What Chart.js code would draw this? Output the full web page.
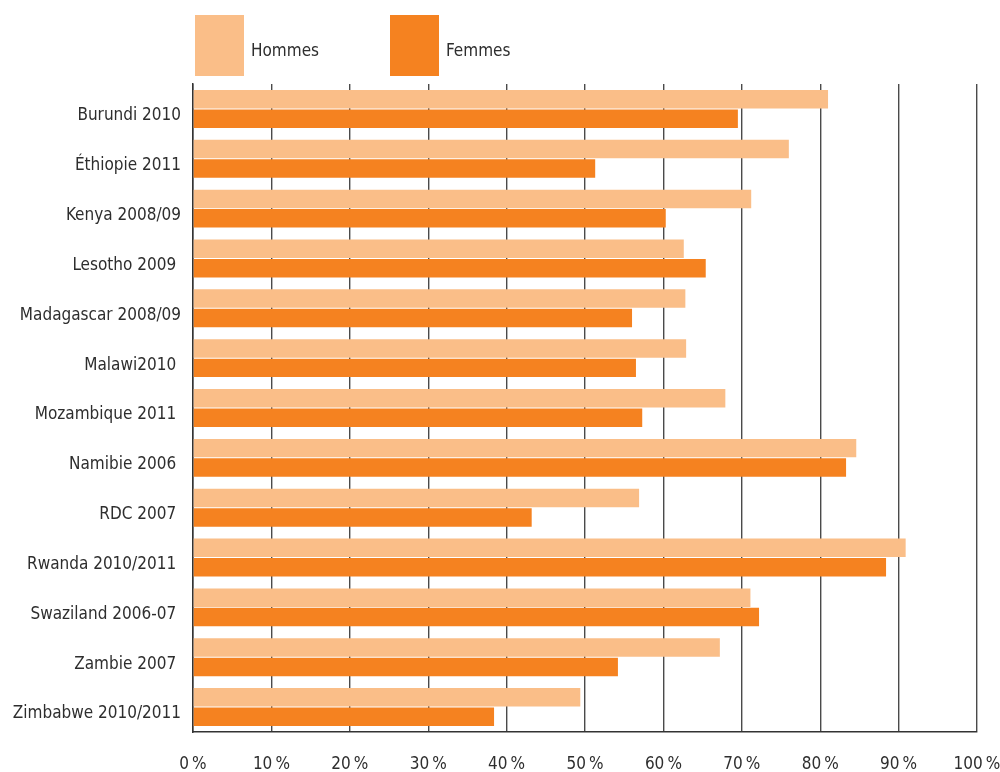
<!DOCTYPE html>
<html>
<head>
<meta charset="utf-8">
<script src="https://cdn.jsdelivr.net/npm/chart.js@4/dist/chart.umd.min.js"></script>
<style>
  html, body { margin: 0; padding: 0; background: #fff; }
  #wrap { width: 1000px; height: 772px; position: relative; }
</style>
</head>
<body>
<div id="wrap"><canvas id="chart"></canvas></div>
<script>
// pays / année d'enquête
const pays = [
  'Burundi 2010', 'Éthiopie 2011', 'Kenya 2008/09', 'Lesotho 2009 ',
  'Madagascar 2008/09', 'Malawi2010 ', 'Mozambique 2011 ', 'Namibie 2006 ',
  'RDC 2007 ', 'Rwanda 2010/2011 ', 'Swaziland 2006-07 ', 'Zambie 2007 ',
  'Zimbabwe 2010/2011'
];

// pourcentages par sexe
const hommes = [81.0, 76.0, 71.2, 62.6, 62.8, 62.9, 67.9, 84.6, 56.9, 90.9, 71.1, 67.2, 49.4];
const femmes = [69.5, 51.3, 60.3, 65.4, 56.0, 56.5, 57.3, 83.3, 43.2, 88.4, 72.2, 54.2, 38.4];

const xTicks = [0, 10, 20, 30, 40, 50, 60, 70, 80, 90, 100];

const FONT = "'Liberation Sans Narrow', 'DejaVu Sans Condensed', 'Roboto', sans-serif";
const TEXT = '#2e2e2e';

// légende en haut : grands carrés de couleur + libellé
const legendPlugin = {
  id: 'topLegend',
  afterDraw(chart) {
    const ctx = chart.ctx;
    const items = [[195, 0], [390, 1]];
    ctx.save();
    items.forEach(([x, i]) => {
      const ds = chart.data.datasets[i];
      ctx.fillStyle = ds.backgroundColor;
      ctx.fillRect(x, 15, 49, 61);
      ctx.fillStyle = TEXT;
      ctx.font = '17px ' + FONT;
      ctx.textBaseline = 'middle';
      ctx.textAlign = 'left';
      ctx.fillText(ds.label, x + 56, 52);
    });
    ctx.restore();
  }
};

new Chart(document.getElementById('chart'), {
  type: 'bar',
  data: {
    labels: pays,
    datasets: [
      { label: 'Hommes', data: hommes, backgroundColor: '#FABE88' },
      { label: 'Femmes', data: femmes, backgroundColor: '#F58220' }
    ]
  },
  options: {
    indexAxis: 'y',
    responsive: true,
    maintainAspectRatio: false,
    animation: false,
    datasets: { bar: { categoryPercentage: 0.78, barPercentage: 0.95 } },
    layout: { padding: { top: 84, right: 0, left: 0, bottom: 0 } },
    plugins: { legend: { display: false }, tooltip: { enabled: false } },
    scales: {
      x: {
        min: 0,
        max: 100,
        afterBuildTicks(scale) { scale.ticks = xTicks.map(v => ({ value: v })); },
        afterFit(scale) { scale.height = 40; scale.paddingRight = 23; },
        grid: { color: '#4a4a4a', lineWidth: 1.4, drawTicks: false },
        border: { color: '#333333', width: 1.5 },
        ticks: {
          color: TEXT,
          padding: 22,
          font: { family: FONT, size: 17 },
          callback: v => v + '\u202F%'
        }
      },
      y: {
        afterFit(scale) { scale.width = 193; },
        grid: { display: false, drawTicks: false },
        border: { color: '#333333', width: 1.5 },
        ticks: {
          color: TEXT,
          padding: 12,
          labelOffset: 7,
          font: { family: FONT, size: 17 }
        }
      }
    }
  },
  plugins: [legendPlugin]
});
</script>
</body>
</html>
